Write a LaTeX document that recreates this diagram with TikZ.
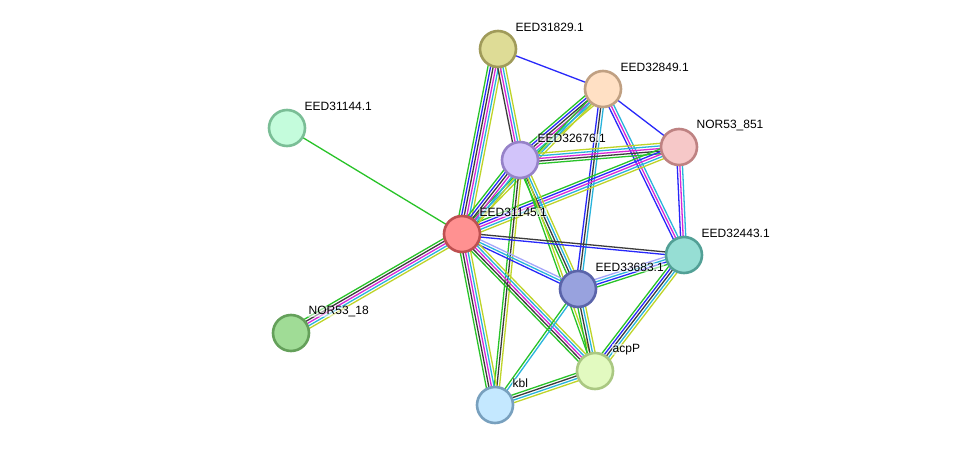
\documentclass[tikz,border=0pt]{standalone}
\usepackage{fontspec}
\setmainfont{Liberation Sans}
\usetikzlibrary{calc, backgrounds}
% evidence channel colours
\definecolor{eg}{RGB}{40,195,40}
\definecolor{eb}{RGB}{40,40,250}
\definecolor{ek}{RGB}{60,60,60}
\definecolor{em}{RGB}{215,40,215}
\definecolor{ec}{RGB}{40,180,220}
\definecolor{ey}{RGB}{190,212,40}
\definecolor{ev}{RGB}{165,165,250}
% one parallel line per evidence channel
\newcommand{\edge}[4]{%
  \foreach \col [count=\i] in {#4}{
    \pgfmathsetmacro{\off}{(\i-(#3+1)/2)*2.6}
    \draw[link, draw=\col] ($(#1)!\off pt!90:(#2)$) -- ($(#2)!\off pt!-90:(#1)$);
  }}

\begin{document}
\begin{tikzpicture}[
  x=1pt, y=-1pt,
  font=\fontsize{12}{14}\selectfont,
  prot/.style={circle, line width=2.6pt, minimum size=36pt, inner sep=0pt},
  lab/.style={anchor=west, fill=white, fill opacity=0.55, text opacity=1, inner sep=0.5pt},
  link/.style={line width=1.3pt},
]
\useasboundingbox (0,0) rectangle (975,450);

% ── proteins ────────────────────────────────────────────────────────────────
\foreach \n/\x/\y/\f/\d/\t in {
  c29/498/49/{rgb,255:red,222;green,220;blue,150}/{rgb,255:red,160;green,155;blue,90}/EED31829.1,
  c49/603/89/{rgb,255:red,255;green,224;blue,196}/{rgb,255:red,192;green,160;blue,130}/EED32849.1,
  c44/287/128/{rgb,255:red,196;green,252;blue,220}/{rgb,255:red,122;green,190;blue,150}/EED31144.1,
  c76/520/160/{rgb,255:red,210;green,196;blue,250}/{rgb,255:red,150;green,130;blue,200}/EED32676.1,
  n851/679/147/{rgb,255:red,246;green,200;blue,200}/{rgb,255:red,190;green,130;blue,130}/NOR53\_851,
  c45/462/234/{rgb,255:red,255;green,145;blue,145}/{rgb,255:red,190;green,80;blue,80}/EED31145.1,
  c43/684/255/{rgb,255:red,150;green,222;blue,212}/{rgb,255:red,82;green,160;blue,150}/EED32443.1,
  c83/578/289/{rgb,255:red,152;green,162;blue,222}/{rgb,255:red,90;green,100;blue,170}/EED33683.1,
  n18/291/333/{rgb,255:red,160;green,220;blue,150}/{rgb,255:red,100;green,160;blue,90}/NOR53\_18,
  acp/595/371/{rgb,255:red,226;green,250;blue,192}/{rgb,255:red,170;green,200;blue,130}/acpP,
  kbl/495/405/{rgb,255:red,196;green,232;blue,255}/{rgb,255:red,120;green,160;blue,190}/kbl}{
  \node[prot, fill=\f, draw=\d] (\n) at (\x,\y) {};
  \node[lab] (\n-l) at (\x+17,\y-21.5) {\t};
}

% ── interactions ────────────────────────────────────────────────────────────
\begin{scope}[on background layer]
  \fill[white] (0,0) rectangle (975,450);
  \edge{c29}{c49}{1}{eb}
  \edge{c29}{c45}{6}{eg,eb,ek,em,ec,ey}
  \edge{c29}{c76}{4}{ek,em,ec,ey}
  \edge{c49}{c76}{6}{eg,eb,ek,em,ec,ey}
  \edge{c49}{n851}{1}{eb}
  \edge{c49}{c83}{3}{eb,ek,ec}
  \edge{c49}{c43}{3}{eb,em,ec}
  \edge{c49}{c45}{3}{eg,ec,ey}
  \edge{c76}{n851}{5}{eg,ek,em,ec,ey}
  \edge{n851}{c45}{5}{eg,eb,em,ec,ey}
  \edge{n851}{c43}{3}{eb,em,ec}
  \edge{c76}{c45}{6}{eg,eb,ek,em,ec,ey}
  \edge{c76}{c83}{4}{eg,ek,ec,ey}
  \edge{c76}{acp}{2}{eg,ey}
  \edge{c76}{kbl}{3}{eg,ek,ey}
  \edge{c45}{c43}{2}{eb,ek}
  \edge{c45}{c83}{3}{eb,ec,ev}
  \edge{c45}{acp}{5}{eg,ek,em,ec,ey}
  \edge{c45}{kbl}{5}{eg,ek,em,ec,ey}
  \edge{c45}{c44}{1}{eg}
  \edge{c45}{n18}{5}{eg,ek,em,ec,ey}
  \edge{c83}{c43}{4}{eg,eb,ec,ev}
  \edge{c83}{acp}{4}{eg,ek,ec,ey}
  \edge{c83}{kbl}{2}{eg,ec}
  \edge{c43}{acp}{5}{eg,eb,ek,ec,ey}
  \edge{acp}{kbl}{4}{eg,ek,ec,ey}
\end{scope}

\end{tikzpicture}
\end{document}
